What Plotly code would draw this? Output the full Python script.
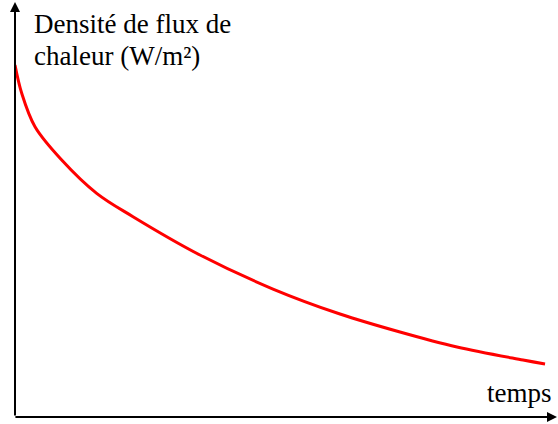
import plotly.graph_objects as go

# Heat flux density decaying over time (arbitrary units)
temps = [0, 1.24, 3.69, 8.62, 15.07, 21.77, 34.13, 47.6, 59.96, 71.03, 81.55, 93.73, 97.79]
flux = [84.82, 78.0, 69.95, 61.93, 53.90, 48.27, 39.04, 30.84, 24.82, 20.48, 16.87, 13.73, 12.77]

y_title_lines = ["Densité de flux de", "chaleur (W/m²)"]
x_title = "temps"

FONT = "Liberation Serif"

fig = go.Figure()
fig.add_trace(go.Scatter(
    x=temps, y=flux, mode="lines",
    line=dict(color="#ff0000", width=3, shape="spline", smoothing=1.0),
    hoverinfo="skip", showlegend=False,
))

axis_common = dict(showgrid=False, zeroline=False, showticklabels=False,
                   ticks="", showline=False, fixedrange=True)
fig.update_xaxes(range=[0, 100], **axis_common)
fig.update_yaxes(range=[0, 100], **axis_common)

# Axis arrows
fig.add_annotation(x=0, y=100, ax=0, ay=0, xref="x", yref="y", axref="x", ayref="y",
                   text="", showarrow=True, arrowhead=2, arrowsize=1, arrowwidth=2,
                   arrowcolor="black")
fig.add_annotation(x=100, y=0, ax=-0.2, ay=0, xref="x", yref="y", axref="x", ayref="y",
                   text="", showarrow=True, arrowhead=2, arrowsize=1, arrowwidth=2,
                   arrowcolor="black")

# Axis titles
title_font = dict(family=FONT, size=27, color="black")
fig.add_annotation(x=0.031, y=0.948, xref="paper", yref="paper", text=y_title_lines[0],
                   showarrow=False, xanchor="left", yanchor="middle", font=title_font)
fig.add_annotation(x=0.031, y=0.871, xref="paper", yref="paper", text=y_title_lines[1],
                   showarrow=False, xanchor="left", yanchor="middle", font=title_font)
fig.add_annotation(x=0.995, y=0.059, xref="paper", yref="paper", text=x_title,
                   showarrow=False, xanchor="right", yanchor="middle", font=title_font)

fig.update_layout(
    width=558, height=424,
    margin=dict(l=15, r=1, t=2, b=7),
    font=dict(family=FONT),
    paper_bgcolor="white", plot_bgcolor="white",
)

fig.write_html("out.html")
